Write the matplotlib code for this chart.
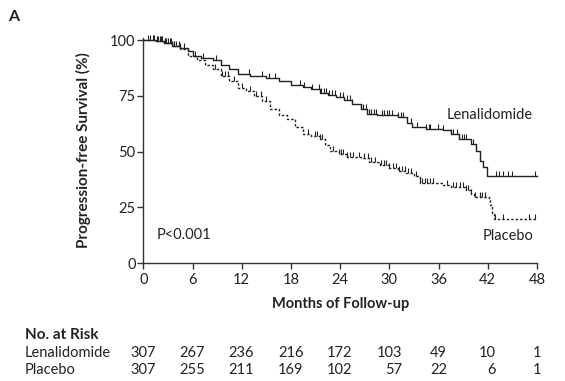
# Kaplan-Meier style progression-free survival chart, lenalidomide vs placebo

import numpy as np
import matplotlib
matplotlib.use('Agg')
import matplotlib.pyplot as plt
from matplotlib.path import Path
from matplotlib.transforms import blended_transform_factory

plt.rcParams['font.family'] = ['Lato', 'DejaVu Sans']

# --- Data ---
len_t = [0, 1.5, 2.5, 3.5, 4.5, 5.5, 6, 7, 8.5, 9.5, 10.5, 11.5, 13, 15, 16.5, 18,
         19.5, 20.5, 21.5, 22.5, 23.5, 24.5, 25.5, 26.5, 27.3, 28.5, 31, 32.2, 32.8,
         34.5, 36.5, 37.5, 38.5, 40, 40.6, 41, 41.4, 41.9, 48]
len_s = [100, 99.5, 98.5, 97.5, 96.5, 95, 93, 92, 91, 89, 87, 85, 84, 83, 81.5, 80,
         79, 78, 76.5, 75.5, 74.5, 73, 71.5, 69, 67, 66.5, 65.5, 63, 61,
         60.3, 59.5, 58, 55.5, 53.5, 50.5, 46, 43, 39, 39]

pla_t = [0, 1.5, 2.5, 3.5, 4.5, 5.5, 6.5, 7.5, 8.5, 9.5, 10.5, 11.5, 12.5, 13.5, 14.5,
         15.5, 16.5, 17.5, 18.5, 19.5, 20.5, 21.5, 22.2, 22.8, 23.8, 24.8, 26.5, 27.5,
         28.8, 30, 31, 32, 33, 33.7, 36.5, 37.5, 39.3, 40, 40.3, 42.1, 42.3, 42.5, 42.7, 48]
pla_s = [100, 99.5, 98.5, 97.5, 96, 93, 91, 89, 87, 84, 81.5, 78.5, 77, 75, 72.5,
         69, 66.5, 64.5, 61, 58, 57, 55.5, 53, 50.5, 49, 47.8, 47, 45.5,
         44, 42.5, 41.5, 40.5, 39, 36, 35, 34, 33, 31, 29.8, 29, 26, 22, 20, 20]

len_cens = [0.6, 1.2, 1.7, 2.0, 2.3, 2.6, 2.8, 3.2, 3.5, 3.8, 4.0, 4.5, 5.0, 6.3, 7.3,
            8.9, 12.9, 14.5, 15.3, 16.1, 19.1, 19.6, 20.6, 21.4, 21.7, 22.0, 22.3, 22.6,
            23.0, 23.4, 24.0, 24.4, 24.8, 25.2, 25.5, 26.5, 26.8, 27.1, 27.5, 27.8, 28.1,
            28.4, 29.1, 29.4, 29.7, 30.0, 30.3, 31.1, 31.4, 31.7, 32.6, 33.4, 34.5, 34.8,
            35.0, 35.9, 36.5, 37.5, 37.8, 38.2, 38.5, 38.8, 39.1, 39.4, 40.2, 40.6, 41.0,
            43.0, 43.4, 43.8, 44.5, 45.0, 47.8]
pla_cens = [0.8, 1.3, 1.8, 2.2, 2.6, 3.0, 3.4, 3.8, 4.3, 8.8, 9.6, 10.0, 10.3, 11.0,
            12.0, 13.0, 13.8, 14.3, 15.0, 20.1, 20.9, 21.2, 21.5, 21.8, 23.1, 23.8, 24.1,
            24.4, 24.8, 25.2, 25.6, 26.3, 26.9, 27.4, 27.8, 28.2, 29.0, 29.3, 29.6, 30.0,
            30.4, 30.8, 31.2, 31.6, 31.9, 32.3, 32.6, 33.2, 33.7, 34.0, 34.4, 34.6, 35.0,
            35.3, 37.0, 37.7, 38.1, 38.6, 39.0, 39.3, 39.6, 40.0, 40.5, 41.0, 41.3, 41.6,
            42.9, 43.9, 47.0, 47.7]

risk_months = [0, 6, 12, 18, 24, 30, 36, 42, 48]
risk_len = [307, 267, 236, 216, 172, 103, 49, 10, 1]
risk_pla = [307, 255, 211, 169, 102, 57, 22, 6, 1]


def step_at(times, surv, x):
    idx = np.searchsorted(times, x, side='right') - 1
    return np.asarray(surv)[idx]


W, H = 565, 381
fig = plt.figure(figsize=(W / 100, H / 100), dpi=100)
ax = fig.add_axes([143.3 / W, 1 - 263.3 / H, 393.7 / W, 225.5 / H])

ink = '#222222'
tick_up = Path([(0, 0), (0, 1)])

ax.plot(len_t, len_s, drawstyle='steps-post', color=ink, lw=1.0, clip_on=False)
ax.plot(len_cens, step_at(len_t, len_s, len_cens), ls='none', marker=tick_up,
        ms=6.5, mew=0.8, mec=ink, clip_on=False)

ax.plot(pla_t, pla_s, drawstyle='steps-post', color=ink, lw=1.0,
        ls=(0, (1.8, 1.4)), clip_on=False)
ax.plot(pla_cens, step_at(pla_t, pla_s, pla_cens), ls='none', marker=tick_up,
        ms=6.5, mew=0.8, mec=ink, clip_on=False)

ax.set_xlim(0, 48)
ax.set_ylim(0, 101)
ax.set_xticks(risk_months)
ax.set_yticks([0, 25, 50, 75, 100])
for s in ['top', 'right']:
    ax.spines[s].set_visible(False)
for s in ['left', 'bottom']:
    ax.spines[s].set_color('#333333')
    ax.spines[s].set_linewidth(1.0)
ax.spines['left'].set_bounds(0, 101)
ax.tick_params(direction='out', length=4, width=1.0, color='#333333',
               labelsize=10.5, labelcolor=ink)
ax.tick_params(axis='x', pad=3)
ax.tick_params(axis='y', pad=1.5)

ax.set_ylabel('Progression-free Survival (%)', fontsize=11, fontweight='bold', color=ink)
ax.yaxis.set_label_coords(-0.133, 0.5)
ax.text(0.5, -0.18, 'Months of Follow-up', transform=ax.transAxes, ha='center',
        va='center', fontsize=10.5, fontweight='bold', color=ink)

ax.text(1.6, 12.5, 'P<0.001', fontsize=10.5, va='center', color=ink)
ax.text(47.5, 66.4, 'Lenalidomide', fontsize=10.5, ha='right', va='center', color=ink)
ax.text(47.6, 12.2, 'Placebo', fontsize=10.5, ha='right', va='center', color=ink)

fig.text(8 / W, 1 - 17 / H, 'A', fontsize=11.5, fontweight='bold', va='center', color=ink)

# --- No. at risk table ---
fig.text(25 / W, 1 - 335 / H, 'No. at Risk', fontsize=11, fontweight='bold',
         va='center', color=ink)
trans = blended_transform_factory(ax.transData, fig.transFigure)
for label, counts, ypx in [('Lenalidomide', risk_len, 352.7), ('Placebo', risk_pla, 370)]:
    fig.text(25 / W, 1 - ypx / H, label, fontsize=10.5, va='center', color=ink)
    for m, a, b, c in zip(risk_months, risk_len, risk_pla, counts):
        width = max(len(str(a)), len(str(b)))
        ax.annotate(str(c), xy=(m, 1 - ypx / H), xycoords=trans,
                    xytext=(width * 3.0, 0), textcoords='offset points',
                    ha='right', va='center', fontsize=10.5, color=ink,
                    annotation_clip=False)

fig.savefig('out.png', dpi=100)
